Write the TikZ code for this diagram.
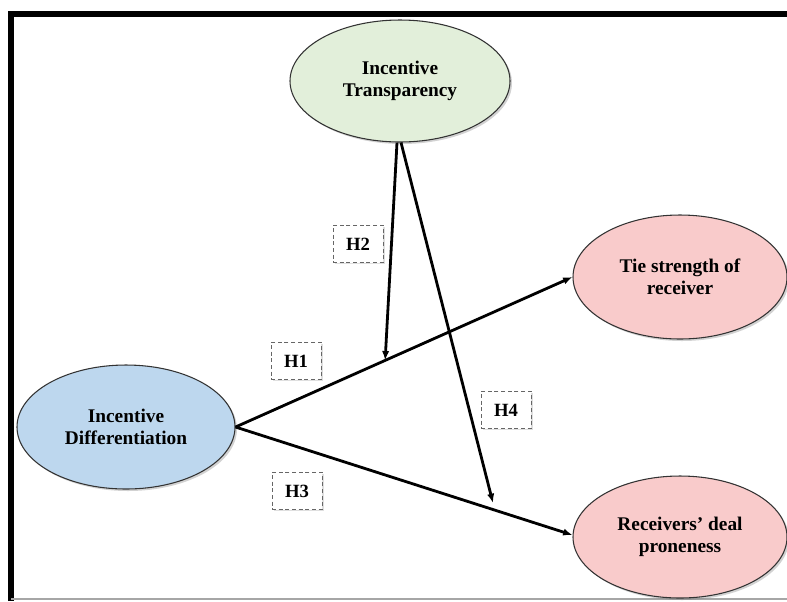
\documentclass[tikz,border=0pt]{standalone}
\usepackage{fontspec}
\setmainfont{Liberation Serif}
\usetikzlibrary{shapes.geometric,shadows,calc,arrows.meta}
\begin{document}
\begin{tikzpicture}[x=0.75pt,y=-0.75pt,
  every node/.style={font=\bfseries\fontsize{14.5}{16.5}\selectfont, align=center},
  construct/.style={ellipse, draw=black!80, line width=0.8pt, inner sep=0pt,
    drop shadow={opacity=0.35, shadow xshift=1.5pt, shadow yshift=-1.5pt}},
  hyplabel/.style={draw=black!60, densely dashed, line width=0.7pt, fill=white,
    minimum width=37.5pt, minimum height=28pt, inner sep=0pt,
    font=\bfseries\fontsize{14}{15}\selectfont,
    drop shadow={opacity=0.25, shadow xshift=1.2pt, shadow yshift=-1.2pt}},
  path/.style={line width=2.1pt, -{Latex[length=7pt,width=5.5pt]}}
]
\useasboundingbox (0,0) rectangle (787,601);
% frame
\fill[white] (0,0) rectangle (787,601);
\draw[line width=4.5pt] (11,601) -- (11,14) -- (787,14);
\draw[black!35, line width=0.8pt] (11,599) -- (787,599);

\definecolor{itgreen}{HTML}{E2EFDA}
\definecolor{idblue}{HTML}{BDD7EE}
\definecolor{outpink}{HTML}{F9CBCB}

\node[construct, fill=itgreen, minimum width=165pt, minimum height=91.5pt] (IT) at (400,81) {Incentive\\Transparency};
\node[construct, fill=idblue, minimum width=163.5pt, minimum height=93pt] (ID) at (126,427) {Incentive\\Differentiation};
\node[construct, fill=outpink, minimum width=160.5pt, minimum height=93pt] (TS) at (680,277) {Tie strength of\\receiver};
\node[construct, fill=outpink, minimum width=160.5pt, minimum height=91.5pt] (RD) at (680,537) {Receivers’ deal\\proneness};

% hypothesis paths
\draw[path] (ID.east) -- (TS.west);
\draw[path] (ID.east) -- ($(RD.west)+(0,-2)$);
\coordinate (h2end) at ($(ID.east)!0.444!(TS.west)$);
\coordinate (h4end) at (493,503);
\draw[path] ($(IT.south)+(-3,0)$) -- (h2end);
\draw[path] ($(IT.south)+(1,0)$) -- (h4end);

% labels
\node[hyplabel] (H2) at (358,244) {H2};
\node[hyplabel] (H1) at (296,361) {H1};
\node[hyplabel] (H4) at (506,410) {H4};
\node[hyplabel] (H3) at (297,491) {H3};
\end{tikzpicture}
\end{document}
